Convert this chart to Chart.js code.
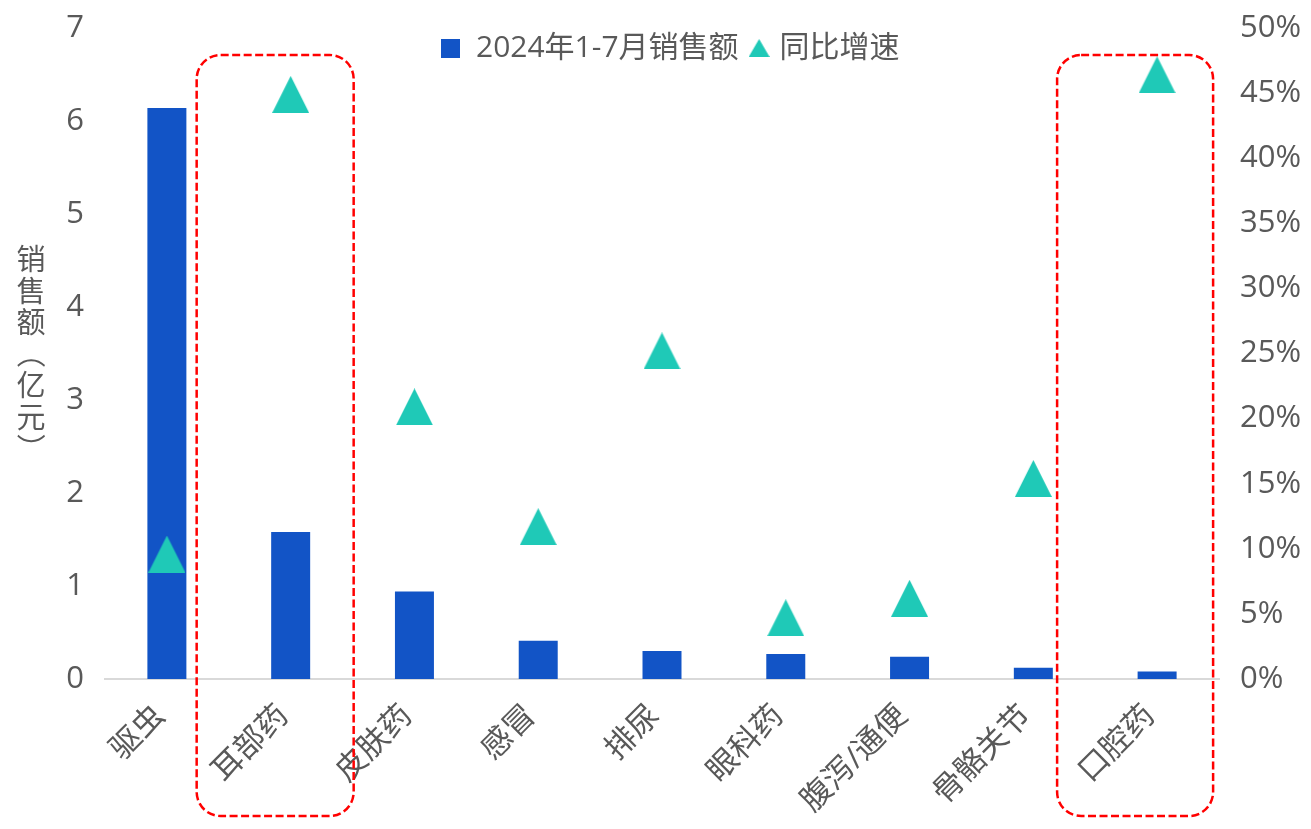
<!DOCTYPE html>
<html>
<head>
<meta charset="utf-8">
<script src="https://cdn.jsdelivr.net/npm/chart.js@4.4.1/dist/chart.umd.min.js"></script>
<style>
  html, body { margin: 0; padding: 0; background: #ffffff; }
  #c { display: block; }
</style>
</head>
<body>
<canvas id="c" width="1311" height="829"></canvas>
<script>
// Categories and series
const categories = ['驱虫', '耳部药', '皮肤药', '感冒', '排尿', '眼科药', '腹泻/通便', '骨骼关节', '口腔药'];
const salesValues = [6.14, 1.58, 0.94, 0.41, 0.30, 0.27, 0.24, 0.12, 0.08];   // 亿元
const growthValues = [9.6, 44.9, 20.9, 11.7, 25.2, 4.7, 6.2, 15.4, 46.4];     // %
const salesTicks = [0, 1, 2, 3, 4, 5, 6, 7];
const growthTicks = [0, 5, 10, 15, 20, 25, 30, 35, 40, 45, 50];
const highlightedCategories = ['耳部药', '口腔药'];
const salesLabel = '2024年1-7月销售额';
const growthLabel = '同比增速';
const yTitleChars = ['销', '售', '额', '（', '亿', '元', '）'];

// Styling
const BAR_COLOR = '#1254c6';
const TRI_COLOR = '#1fc9b7';
const TEXT_COLOR = '#595959';
const FONT = "'Open Sans', 'Noto Sans CJK SC', sans-serif";
// dashed frame extents around highlighted categories, relative to the category centre
const frameGeometry = [
  { left: -94, right: 63, top: 55, bottom: 816 },
  { left: -100, right: 56, top: 55, bottom: 816 }
];

function triangleCanvas(w, h, color) {
  const cv = document.createElement('canvas');
  cv.width = w; cv.height = h;
  const g = cv.getContext('2d');
  g.fillStyle = color;
  g.beginPath();
  g.moveTo(w / 2, 0);
  g.lineTo(w, h);
  g.lineTo(0, h);
  g.closePath();
  g.fill();
  return cv;
}
// square swatch with transparent room on its right, so the text sits a little further away
function squareCanvas(size, extra, color) {
  const cv = document.createElement('canvas');
  cv.width = size + extra; cv.height = size;
  const g = cv.getContext('2d');
  g.fillStyle = color;
  g.fillRect(0, 0, size, size);
  return cv;
}
const triMarker = triangleCanvas(37, 37, TRI_COLOR);
const triLegend = triangleCanvas(21, 18, TRI_COLOR);
const squareLegend = squareCanvas(19, 10, BAR_COLOR);

// Legend laid out as a single row floating inside the plot area
const legendRowPlugin = {
  id: 'legendRow',
  afterInit(chart) {
    if (chart.legend) chart.legend.isHorizontal = () => true;
  },
  afterLayout(chart) {
    const lg = chart.legend;
    if (!lg) return;
    lg.left = 435;
    lg.top = chart.chartArea.top - 10;
  }
};

// Vertical, stacked y-axis title
const yTitlePlugin = {
  id: 'yTitleStacked',
  afterDraw(chart) {
    const ctx = chart.ctx;
    const area = chart.chartArea;
    const cx = 31;
    const step = 31.5;
    const midY = (area.top + area.bottom) / 2;
    const startY = midY - step * (yTitleChars.length - 1) / 2;
    ctx.save();
    ctx.fillStyle = TEXT_COLOR;
    ctx.font = "29px 'Noto Sans CJK SC', sans-serif";
    ctx.textAlign = 'center';
    ctx.textBaseline = 'middle';
    yTitleChars.forEach((ch, i) => {
      const y = startY + i * step;
      if (ch === '（' || ch === '）') {
        ctx.save();
        ctx.translate(cx, y);
        ctx.rotate(Math.PI / 2);
        ctx.fillText(ch, 0, 0);
        ctx.restore();
      } else {
        ctx.fillText(ch, cx, y);
      }
    });
    ctx.restore();
  }
};

// Red dashed rounded frames around highlighted categories
const framePlugin = {
  id: 'highlightFrames',
  afterDraw(chart) {
    const ctx = chart.ctx;
    const xs = chart.scales.x;
    ctx.save();
    ctx.strokeStyle = '#ff0000';
    ctx.lineWidth = 2.5;
    ctx.setLineDash([8, 3.5]);
    highlightedCategories.forEach((cat, k) => {
      const idx = categories.indexOf(cat);
      const cx = xs.getPixelForValue(idx);
      const g = frameGeometry[k];
      ctx.beginPath();
      ctx.roundRect(cx + g.left, g.top, g.right - g.left, g.bottom - g.top, 24);
      ctx.stroke();
    });
    ctx.restore();
  }
};

// value axes: tick labels may overhang the plot area; the plot keeps its own top edge
function noOverhang(s) { s.paddingTop = 0; s.paddingBottom = 0; }

new Chart(document.getElementById('c'), {
  data: {
    labels: categories,
    datasets: [
      {
        type: 'bar',
        label: salesLabel,
        data: salesValues,
        backgroundColor: BAR_COLOR,
        yAxisID: 'y',
        barPercentage: 0.315,
        categoryPercentage: 1,
        order: 1
      },
      {
        type: 'line',
        label: growthLabel,
        data: growthValues,
        showLine: false,
        pointStyle: triMarker,
        backgroundColor: TRI_COLOR,
        borderColor: TRI_COLOR,
        yAxisID: 'y1',
        order: 0
      }
    ]
  },
  options: {
    responsive: false,
    animation: false,
    devicePixelRatio: 1,
    layout: { padding: { top: 28, right: 0, bottom: 0, left: 0 } },
    plugins: {
      tooltip: { enabled: false },
      legend: {
        position: 'chartArea',
        align: 'start',
        labels: {
          usePointStyle: true,
          pointStyleWidth: 11,
          boxHeight: 19,
          padding: 15,
          color: TEXT_COLOR,
          font: { family: FONT, size: 30 },
          generateLabels(chart) {
            const items = Chart.defaults.plugins.legend.labels.generateLabels(chart);
            items.forEach(it => {
              it.pointStyle = it.datasetIndex === 0 ? squareLegend : triLegend;
            });
            items.sort((a, b) => a.datasetIndex - b.datasetIndex);
            return items;
          }
        }
      }
    },
    scales: {
      x: {
        type: 'category',
        offset: true,
        grid: { display: false, drawTicks: false },
        border: { display: true, color: '#d9d9d9', width: 2 },
        ticks: {
          color: TEXT_COLOR,
          font: { family: FONT, size: 31 },
          minRotation: 45,
          maxRotation: 45,
          autoSkip: false,
          padding: 19,
          labelOffset: -7
        },
        afterFit(s) { s.height = 150; }
      },
      y: {
        position: 'left',
        min: 0, max: 7,
        grid: { display: false, drawTicks: false },
        border: { display: false },
        afterBuildTicks(s) { s.ticks = salesTicks.map(v => ({ value: v })); },
        ticks: {
          color: TEXT_COLOR,
          font: { family: FONT, size: 31 },
          padding: 21
        },
        afterFit(s) { s.width = 105; noOverhang(s); }
      },
      y1: {
        position: 'right',
        min: 0, max: 50,
        grid: { display: false, drawTicks: false },
        border: { display: false },
        afterBuildTicks(s) { s.ticks = growthTicks.map(v => ({ value: v })); },
        ticks: {
          color: TEXT_COLOR,
          font: { family: FONT, size: 31 },
          padding: 21,
          callback: v => v + '%'
        },
        afterFit(s) { s.width = 92; noOverhang(s); }
      }
    }
  },
  plugins: [legendRowPlugin, yTitlePlugin, framePlugin]
});
</script>
</body>
</html>
